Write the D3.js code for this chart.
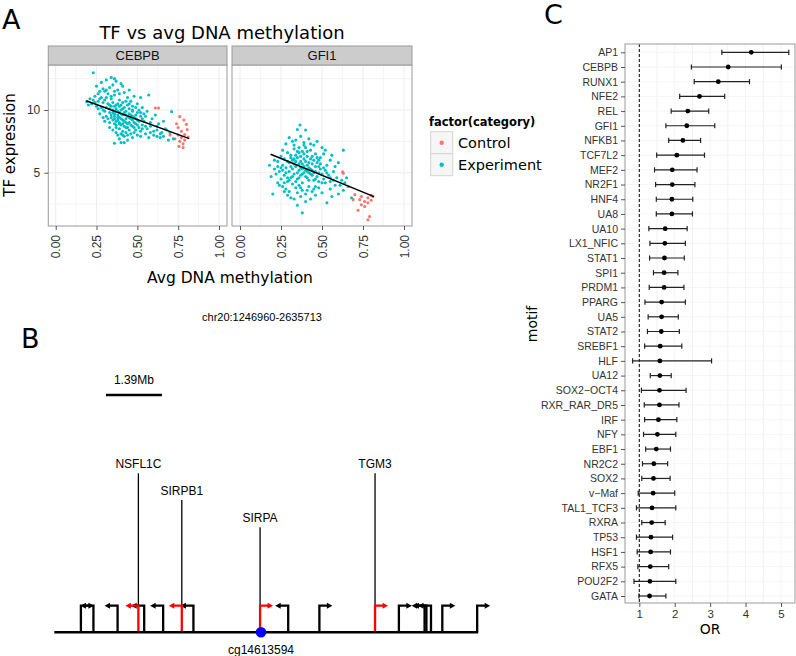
<!DOCTYPE html>
<html><head><meta charset="utf-8">
<script src="https://cdn.jsdelivr.net/npm/d3@7"></script>
<style>body{margin:0;background:#fff} svg{display:block}</style>
</head><body><svg id="c" width="796" height="656"></svg>
<script>
// ---------- Panel A data ----------
const facets = ["CEBPB", "GFI1"];
const xTicksA = [0, 0.25, 0.5, 0.75, 1];
const xTickLabelsA = ["0.00", "0.25", "0.50", "0.75", "1.00"];
const yTicksA = [5, 10];
const categories = ["Control", "Experiment"];
const catColors = ["#F8766D", "#00BFC4"];

const cebpbExperiment = [
 [0.23,12.97],[0.36,12.5],[0.25,11.9],[0.28,12.2],[0.30,11.5],[0.26,11.3],[0.33,11.8],[0.35,12.0],[0.38,11.6],[0.40,12.1],
 [0.42,11.4],[0.31,11.0],[0.27,10.9],[0.24,11.1],[0.29,10.6],[0.22,10.5],[0.19,10.66],[0.20,10.4],[0.21,10.9],[0.25,10.3],
 [0.28,10.2],[0.32,10.5],[0.34,10.9],[0.36,11.2],[0.39,10.8],[0.37,10.4],[0.41,10.6],[0.44,11.0],[0.46,10.7],[0.48,11.1],
 [0.57,11.2],[0.50,10.5],[0.53,10.2],[0.45,10.1],[0.43,9.9],[0.40,10.0],[0.35,10.0],[0.33,9.8],[0.30,9.9],[0.27,9.7],
 [0.31,9.5],[0.34,9.4],[0.36,9.7],[0.38,9.9],[0.39,9.4],[0.41,9.6],[0.43,9.3],[0.45,9.7],[0.47,9.9],[0.49,9.6],
 [0.52,9.8],[0.55,9.5],[0.54,9.1],[0.50,9.2],[0.48,9.0],[0.46,9.3],[0.44,8.9],[0.42,9.1],[0.40,8.8],[0.38,9.2],
 [0.36,8.9],[0.35,9.2],[0.33,9.0],[0.37,8.6],[0.39,8.5],[0.41,8.3],[0.43,8.6],[0.45,8.4],[0.47,8.7],[0.49,8.4],
 [0.51,8.6],[0.53,8.8],[0.56,8.5],[0.58,8.7],[0.60,8.3],[0.62,8.4],[0.65,8.2],[0.68,8.4],[0.70,8.2],[0.71,9.87],
 [0.66,9.1],[0.63,8.9],[0.59,9.3],[0.61,9.6],[0.46,8.1],[0.44,8.0],[0.42,7.9],[0.40,8.1],[0.38,8.0],[0.36,7.35],
 [0.42,7.4],[0.39,7.7],[0.47,7.8],[0.50,8.0],[0.52,7.9],[0.55,8.1],[0.66,7.9],[0.72,7.7],[0.69,7.6],[0.64,7.8],
 [0.32,11.3],[0.29,11.7],[0.34,10.3],[0.37,10.1],[0.39,10.3],[0.42,10.2],[0.44,10.4],[0.47,10.3],[0.35,10.6],[0.30,10.8],
 [0.33,10.1],[0.36,9.5],[0.38,9.6],[0.40,9.7],[0.42,9.8],[0.44,9.5],[0.46,9.6],[0.48,9.4],[0.41,9.2],[0.43,9.0],
 [0.45,9.0],[0.47,9.2],[0.49,8.9],[0.51,9.1],[0.37,9.1],[0.39,8.9],[0.34,9.6],[0.32,9.3],[0.29,9.4],[0.26,10.1],
 [0.24,10.6],[0.27,11.5],[0.31,12.4],[0.34,12.6],[0.37,12.3],[0.41,11.9],[0.45,11.6],[0.52,11.0],[0.49,10.2],[0.56,9.9],
 [0.58,9.0],[0.52,8.3],[0.48,8.2],[0.35,8.4],[0.33,8.6],[0.57,7.8],[0.62,7.9],[0.44,7.6],[0.40,7.4],[0.30,9.1],
 [0.36,10.3],[0.38,10.5],[0.40,10.4],[0.43,10.7],[0.45,10.5],[0.41,10.1],[0.39,9.8],[0.37,9.9],[0.35,9.8],[0.33,10.4],
 [0.31,10.2],[0.29,10.0],[0.43,9.6],[0.45,9.4],[0.47,9.5],[0.49,9.3],[0.50,9.8],[0.52,9.5],[0.53,9.3],[0.40,9.3],
 [0.38,9.4],[0.36,9.3],[0.42,8.7],[0.44,8.6],[0.46,8.8],[0.48,8.6],[0.50,8.8],[0.39,9.0],[0.41,8.9],[0.37,8.8],
 [0.34,11.1],[0.36,11.5],[0.39,11.3],[0.31,11.6],[0.28,11.0],[0.26,10.7],[0.23,10.8],[0.47,10.0],[0.51,10.0],[0.54,9.7],
 [0.62,8.7],[0.67,8.5],[0.64,8.1],[0.60,8.0],[0.58,8.2],[0.55,8.7],[0.53,8.5],[0.43,8.2],[0.41,8.0],[0.37,8.2]
];
const cebpbControl = [
 [0.61,10.16],[0.63,10.16],[0.76,9.47],[0.785,9.2],[0.74,8.9],[0.80,8.85],[0.805,8.45],[0.75,8.0],[0.77,7.8],[0.79,7.6],
 [0.76,7.5],[0.78,7.3],[0.755,7.1],[0.73,7.7],[0.79,8.05],[0.81,7.85],[0.77,8.3],[0.75,8.6],[0.70,8.0],[0.78,7.0]
];
const gfi1Experiment = [
 [0.366,8.8],[0.35,8.45],[0.40,8.4],[0.30,7.8],[0.32,7.5],[0.28,7.3],[0.34,7.6],[0.37,7.9],[0.39,7.4],[0.42,7.7],
 [0.45,7.2],[0.47,7.5],[0.50,7.0],[0.52,6.8],[0.56,6.4],[0.60,5.8],[0.63,6.8],[0.55,6.0],[0.53,5.6],[0.49,6.2],
 [0.46,6.5],[0.43,6.8],[0.41,6.3],[0.38,6.7],[0.36,7.0],[0.33,6.9],[0.31,6.4],[0.29,6.6],[0.27,6.1],[0.25,6.3],
 [0.23,5.9],[0.18,5.6],[0.21,5.3],[0.19,4.7],[0.24,5.1],[0.26,5.6],[0.28,5.4],[0.30,5.8],[0.32,6.0],[0.34,5.5],
 [0.36,5.2],[0.38,5.7],[0.40,5.9],[0.42,5.4],[0.44,5.7],[0.46,5.1],[0.48,5.5],[0.50,4.9],[0.52,5.2],[0.54,4.8],
 [0.57,5.1],[0.59,4.6],[0.62,4.4],[0.64,4.2],[0.66,3.9],[0.58,4.0],[0.55,4.3],[0.51,4.5],[0.47,4.7],[0.45,4.4],
 [0.43,4.9],[0.41,4.6],[0.39,5.0],[0.37,4.8],[0.35,4.5],[0.33,4.9],[0.31,4.6],[0.29,4.3],[0.27,4.8],[0.25,4.5],
 [0.23,4.2],[0.26,3.9],[0.28,3.7],[0.30,3.5],[0.32,4.1],[0.34,3.8],[0.36,4.0],[0.38,3.6],[0.40,3.3],[0.42,3.9],
 [0.44,3.5],[0.46,3.2],[0.48,3.8],[0.50,3.4],[0.53,2.6],[0.56,3.1],[0.60,3.3],[0.63,3.6],[0.68,3.0],[0.20,3.3],
 [0.38,1.8],[0.33,2.9],[0.35,2.4],[0.31,3.0],[0.29,3.2],[0.40,2.7],[0.43,2.9],[0.37,3.1],[0.35,6.2],[0.37,5.9],
 [0.39,6.1],[0.41,5.6],[0.43,6.1],[0.45,6.0],[0.34,6.4],[0.32,5.3],[0.30,5.1],[0.35,5.0],[0.37,5.4],[0.39,5.5],
 [0.41,5.1],[0.43,5.3],[0.45,5.0],[0.47,5.8],[0.49,5.3],[0.33,5.7],[0.31,5.5],[0.29,5.9],[0.36,6.6],[0.40,7.0],
 [0.44,6.3],[0.48,6.0],[0.26,6.8],[0.22,4.9],[0.24,4.0],[0.52,4.2],[0.55,3.7],[0.61,4.0],[0.58,5.5],[0.65,4.6],
 [0.34,4.3],[0.38,4.2],[0.42,4.4],[0.46,3.9],[0.27,3.5],[0.39,7.2],[0.33,7.2],[0.43,7.3],[0.51,6.5],[0.57,4.4],
 [0.34,5.9],[0.36,5.7],[0.38,5.3],[0.40,5.2],[0.42,5.8],[0.44,5.2],[0.46,5.5],[0.48,5.0],[0.36,4.6],[0.38,4.9],
 [0.40,4.7],[0.42,5.0],[0.44,4.8],[0.46,4.5],[0.32,4.7],[0.30,4.4],[0.28,5.0],[0.26,5.2],[0.31,6.2],[0.33,6.1],
 [0.35,6.7],[0.37,6.3],[0.39,6.5],[0.41,6.7],[0.47,6.2],[0.49,5.7],[0.51,5.4],[0.53,5.0],[0.55,4.6],[0.50,4.2],
 [0.48,4.3],[0.35,3.4],[0.37,3.8],[0.41,3.6],[0.45,3.7],[0.29,4.6],[0.27,4.2],[0.25,5.4],[0.23,5.5],[0.21,6.0]
];
const gfi1Control = [
 [0.626,5.08],[0.63,4.95],[0.70,3.25],[0.73,2.85],[0.74,3.1],[0.78,3.0],[0.80,3.2],[0.74,2.45],[0.76,2.3],[0.78,2.6],
 [0.72,2.0],[0.79,1.5],[0.78,1.25],[0.81,3.1],[0.69,2.85],[0.76,2.7],[0.80,2.8]
];
const fitX = [[0.187, 0.818], [0.187, 0.817]];
const fitY = [[10.74, 7.71], [6.47, 3.09]];

// ---------- Panel B data (kb from start of chr20:1246960-2635713) ----------
const regionLabel = "chr20:1246960-2635713";
const regionKb = [0, 1389];
const scaleBarKb = [169, 352];
const scaleBarLabel = "1.39Mb";
const tssKb =     [87, 128, 207, 275, 294, 356, 417, 455, 673, 765, 867, 1049, 1127, 1211, 1217, 1232, 1269, 1383];
const tssStrand = [ 1,  -1,  -1,  -1,  -1,  -1,  -1,  -1,   1,  -1,   1,    1,    1,   -1,   -1,   -1,    1,    1];
const tssHighlighted = [0,0,0,1,0,0,1,0,1,0,0,1,0,0,0,0,0,0];
const geneNames = ["NSFL1C", "SIRPB1", "SIRPA", "TGM3"];
const geneKb = [275, 417, 673, 1049];
const cpgName = "cg14613594";
const cpgKb = 676;

// ---------- Panel C data ----------
const motifs = ["AP1","CEBPB","RUNX1","NFE2","REL","GFI1","NFKB1","TCF7L2","MEF2","NR2F1","HNF4","UA8","UA10","LX1_NFIC",
 "STAT1","SPI1","PRDM1","PPARG","UA5","STAT2","SREBF1","HLF","UA12","SOX2\u2212OCT4","RXR_RAR_DR5","IRF","NFY","EBF1",
 "NR2C2","SOX2","v\u2212Maf","TAL1_TCF3","RXRA","TP53","HSF1","RFX5","POU2F2","GATA"];
const orValue = [4.16,3.51,3.23,2.70,2.37,2.34,2.23,2.06,1.93,1.93,1.92,1.92,1.73,1.72,1.71,1.70,1.70,1.63,1.63,1.62,1.59,1.58,1.58,1.57,1.57,
 1.54,1.51,1.48,1.41,1.40,1.39,1.36,1.35,1.33,1.32,1.31,1.30,1.29];
const orLow = [3.33,2.47,2.55,2.14,1.90,1.75,1.83,1.49,1.43,1.46,1.48,1.48,1.27,1.30,1.29,1.40,1.28,1.16,1.25,1.23,1.15,0.81,1.31,1.06,1.14,
 1.15,1.12,1.18,1.09,1.07,0.97,0.92,1.07,0.92,0.94,0.96,0.85,0.99];
const orHigh = [5.22,5.01,4.11,3.41,2.96,3.13,2.73,2.84,2.63,2.57,2.51,2.50,2.35,2.30,2.27,2.09,2.26,2.30,2.10,2.13,2.20,3.04,1.90,2.32,2.12,
 2.06,2.03,1.88,1.80,1.87,2.00,2.03,1.73,1.94,1.88,1.83,2.03,1.75];
const orTicks = [1, 2, 3, 4, 5];

// ---------- drawing ----------
const svg = d3.select("#c");
svg.append("rect").attr("width", 796).attr("height", 656).attr("fill", "#fff");
const SANS = "'Liberation Sans', Arial, sans-serif";
const DJ = "'DejaVu Sans', sans-serif";

// Panel letters
[["A", 2, 29], ["B", 21, 348], ["C", 544, 24]].forEach(([t, x, y]) =>
  svg.append("text").attr("x", x).attr("y", y).text(t)
    .style("font-family", DJ).style("font-size", "27px").attr("fill", "#000"));

// ===== Panel A =====
const yA = d3.scaleLinear().domain([5, 10]).range([172.7, 110]);
const panelTop = 65, panelBot = 226, stripTop = 46;
const facetBox = [[48.3, 227], [232, 412]];
const facetRange = [[55.7, 219], [240, 404]];
const facetData = [[cebpbControl, cebpbExperiment], [gfi1Control, gfi1Experiment]];

svg.append("text").attr("x", 222).attr("y", 39).attr("text-anchor", "middle")
  .text("TF vs avg DNA methylation").style("font-family", DJ).style("font-size", "18px");

facets.forEach((f, i) => {
  const [x0, x1] = facetBox[i];
  const xs = d3.scaleLinear().domain([0, 1]).range(facetRange[i]);
  const g = svg.append("g");
  g.append("rect").attr("x", x0).attr("y", panelTop).attr("width", x1 - x0).attr("height", panelBot - panelTop).attr("fill", "#fff");
  [0.125, 0.375, 0.625, 0.875].forEach(v => g.append("line").attr("x1", xs(v)).attr("x2", xs(v)).attr("y1", panelTop).attr("y2", panelBot).attr("stroke", "#f6f6f6"));
  [2.5, 7.5, 12.5].forEach(v => g.append("line").attr("x1", x0).attr("x2", x1).attr("y1", yA(v)).attr("y2", yA(v)).attr("stroke", "#f3f3f3"));
  xTicksA.forEach(v => g.append("line").attr("x1", xs(v)).attr("x2", xs(v)).attr("y1", panelTop).attr("y2", panelBot).attr("stroke", "#ededed"));
  yTicksA.forEach(v => g.append("line").attr("x1", x0).attr("x2", x1).attr("y1", yA(v)).attr("y2", yA(v)).attr("stroke", "#ededed"));
  facetData[i].forEach((arr, ci) => {
    g.selectAll(null).data(arr).enter().append("circle")
      .attr("cx", d => xs(d[0])).attr("cy", d => yA(d[1])).attr("r", 1.55).attr("fill", catColors[ci]);
  });
  g.append("line").attr("x1", xs(fitX[i][0])).attr("y1", yA(fitY[i][0]))
    .attr("x2", xs(fitX[i][1])).attr("y2", yA(fitY[i][1])).attr("stroke", "#000").attr("stroke-width", 1.4);
  g.append("rect").attr("x", x0).attr("y", panelTop).attr("width", x1 - x0).attr("height", panelBot - panelTop)
    .attr("fill", "none").attr("stroke", "#9a9a9a");
  g.append("rect").attr("x", x0).attr("y", stripTop).attr("width", x1 - x0).attr("height", panelTop - stripTop)
    .attr("fill", "#cccccc").attr("stroke", "#9a9a9a");
  g.append("text").attr("x", (x0 + x1) / 2).attr("y", 60).attr("text-anchor", "middle").text(f)
    .style("font-family", SANS).style("font-size", "13px").attr("fill", "#111");
  const ax = d3.axisBottom(xs).tickValues(xTicksA).tickFormat((d, k) => xTickLabelsA[k]).tickSize(4).tickSizeOuter(0);
  const axg = svg.append("g").attr("transform", `translate(0,${panelBot})`).call(ax);
  axg.select(".domain").remove();
  axg.selectAll(".tick line").attr("stroke", "#555");
  axg.selectAll(".tick text").attr("transform", "rotate(-90)").attr("text-anchor", "end")
    .attr("x", -9).attr("y", 0).attr("dy", "0.35em")
    .style("font-family", SANS).style("font-size", "12px").attr("fill", "#333");
});
const ayg = svg.append("g").attr("transform", `translate(${facetBox[0][0]},0)`)
  .call(d3.axisLeft(yA).tickValues(yTicksA).tickFormat(d3.format("d")).tickSize(4).tickSizeOuter(0));
ayg.select(".domain").remove();
ayg.selectAll(".tick line").attr("stroke", "#555");
ayg.selectAll(".tick text").style("font-family", SANS).style("font-size", "12px").attr("fill", "#333").attr("x", -8);
svg.append("text").attr("transform", "translate(15,145) rotate(-90)").attr("text-anchor", "middle")
  .text("TF expression").style("font-family", DJ).style("font-size", "15px");
svg.append("text").attr("x", 230).attr("y", 283).attr("text-anchor", "middle")
  .text("Avg DNA methylation").style("font-family", DJ).style("font-size", "15.5px");

// Legend
svg.append("text").attr("x", 429).attr("y", 126).text("factor(category)")
  .style("font-family", DJ).style("font-size", "11.5px").style("font-weight", "bold");
categories.forEach((c, k) => {
  const y0 = 131.7 + k * 22;
  svg.append("rect").attr("x", 430.7).attr("y", y0).attr("width", 22).attr("height", 22)
    .attr("fill", "#f6f6f6").attr("stroke", "#d4d4d4");
  svg.append("circle").attr("cx", 441.7).attr("cy", y0 + 11).attr("r", 2.2).attr("fill", catColors[k]);
  svg.append("text").attr("x", 458).attr("y", y0 + 16).text(c).style("font-family", DJ).style("font-size", "14.5px");
});

// ===== Panel B =====
const xB = d3.scaleLinear().domain(regionKb).range([54.3, 479]);
const baseY = 632.3, tssTop = 605.7, arrowLen = 13;
svg.append("text").attr("x", 262).attr("y", 321).attr("text-anchor", "middle").text(regionLabel)
  .style("font-family", SANS).style("font-size", "11px");
svg.append("text").attr("x", (xB(scaleBarKb[0]) + xB(scaleBarKb[1])) / 2).attr("y", 384).attr("text-anchor", "middle")
  .text(scaleBarLabel).style("font-family", SANS).style("font-size", "12px");
svg.append("line").attr("x1", xB(scaleBarKb[0])).attr("x2", xB(scaleBarKb[1])).attr("y1", 395).attr("y2", 395)
  .attr("stroke", "#000").attr("stroke-width", 2.5);

const labelTop = [473.3, 500, 527.3, 473.3];
const labelBase = [468.3, 495, 522, 468.3];
geneNames.forEach((n, k) => {
  svg.append("line").attr("x1", xB(geneKb[k])).attr("x2", xB(geneKb[k])).attr("y1", labelTop[k]).attr("y2", tssTop)
    .attr("stroke", "#000").attr("stroke-width", 1.3);
  svg.append("text").attr("x", xB(geneKb[k])).attr("y", labelBase[k]).attr("text-anchor", "middle").text(n)
    .style("font-family", SANS).style("font-size", "12px");
});
const order = d3.range(tssKb.length).sort((a, b) => tssHighlighted[a] - tssHighlighted[b]);
order.forEach(k => {
  const col = tssHighlighted[k] ? "#ff0000" : "#000";
  const x = xB(tssKb[k]), s = tssStrand[k];
  const tip = x + s * arrowLen;
  svg.append("path").attr("d", `M${x},${baseY}V${tssTop}H${tip - s * 4}`)
    .attr("fill", "none").attr("stroke", col).attr("stroke-width", 2.3).attr("stroke-linejoin", "miter");
  svg.append("path").attr("d", `M${tip},${tssTop}L${tip - s * 5.5},${tssTop - 3}L${tip - s * 5.5},${tssTop + 3}Z`).attr("fill", col);
});
svg.append("line").attr("x1", xB(regionKb[0])).attr("x2", xB(tssKb[tssKb.length - 1]) + 1).attr("y1", baseY).attr("y2", baseY)
  .attr("stroke", "#000").attr("stroke-width", 2.5);
svg.append("circle").attr("cx", xB(cpgKb)).attr("cy", baseY).attr("r", 5.3).attr("fill", "#0000ff");
svg.append("text").attr("x", xB(cpgKb)).attr("y", 654).attr("text-anchor", "middle").text(cpgName)
  .style("font-family", SANS).style("font-size", "12px");

// ===== Panel C =====
const cL = 625, cR = 795, cT = 44, cB = 603;
const xC = d3.scaleLinear().domain([1, 5]).range([639.3, 781]);
const yC = d3.scalePoint().domain(motifs).range([52.3, 596]);
const gc = svg.append("g");
gc.append("rect").attr("x", cL).attr("y", cT).attr("width", cR - cL).attr("height", cB - cT).attr("fill", "#fff");
[1.5, 2.5, 3.5, 4.5].forEach(v => gc.append("line").attr("x1", xC(v)).attr("x2", xC(v)).attr("y1", cT).attr("y2", cB).attr("stroke", "#f0f0f0"));
orTicks.forEach(v => gc.append("line").attr("x1", xC(v)).attr("x2", xC(v)).attr("y1", cT).attr("y2", cB).attr("stroke", "#f5f5f5"));
motifs.forEach(m => gc.append("line").attr("x1", cL).attr("x2", cR).attr("y1", yC(m)).attr("y2", yC(m)).attr("stroke", "#f5f5f5"));
gc.append("line").attr("x1", xC(1)).attr("x2", xC(1)).attr("y1", cT).attr("y2", cB)
  .attr("stroke", "#000").attr("stroke-width", 1).attr("stroke-dasharray", "3,2");
motifs.forEach((m, k) => {
  const y = yC(m);
  gc.append("line").attr("x1", xC(orLow[k])).attr("x2", xC(orHigh[k])).attr("y1", y).attr("y2", y).attr("stroke", "#222").attr("stroke-width", 1.2);
  [orLow[k], orHigh[k]].forEach(v => gc.append("line").attr("x1", xC(v)).attr("x2", xC(v)).attr("y1", y - 2.6).attr("y2", y + 2.6).attr("stroke", "#222").attr("stroke-width", 1.2));
  gc.append("circle").attr("cx", xC(orValue[k])).attr("cy", y).attr("r", 2.4).attr("fill", "#000");
});
gc.append("rect").attr("x", cL).attr("y", cT).attr("width", cR - cL).attr("height", cB - cT).attr("fill", "none").attr("stroke", "#9a9a9a");
const ayc = svg.append("g").attr("transform", `translate(${cL},0)`).call(d3.axisLeft(yC).tickSize(4).tickSizeOuter(0));
ayc.select(".domain").remove();
ayc.selectAll(".tick line").attr("stroke", "#555");
ayc.selectAll(".tick text").style("font-family", SANS).style("font-size", "10.5px").attr("fill", "#333").attr("x", -7);
const axc = svg.append("g").attr("transform", `translate(0,${cB})`)
  .call(d3.axisBottom(xC).tickValues(orTicks).tickFormat(d3.format("d")).tickSize(4).tickSizeOuter(0));
axc.select(".domain").remove();
axc.selectAll(".tick line").attr("stroke", "#555");
axc.selectAll(".tick text").style("font-family", SANS).style("font-size", "11.5px").attr("fill", "#333").attr("y", 7);
svg.append("text").attr("x", 710).attr("y", 634).attr("text-anchor", "middle").text("OR")
  .style("font-family", DJ).style("font-size", "14px");
svg.append("text").attr("transform", "translate(537,324) rotate(-90)").attr("text-anchor", "middle").text("motif")
  .style("font-family", DJ).style("font-size", "14px");
</script></body></html>
